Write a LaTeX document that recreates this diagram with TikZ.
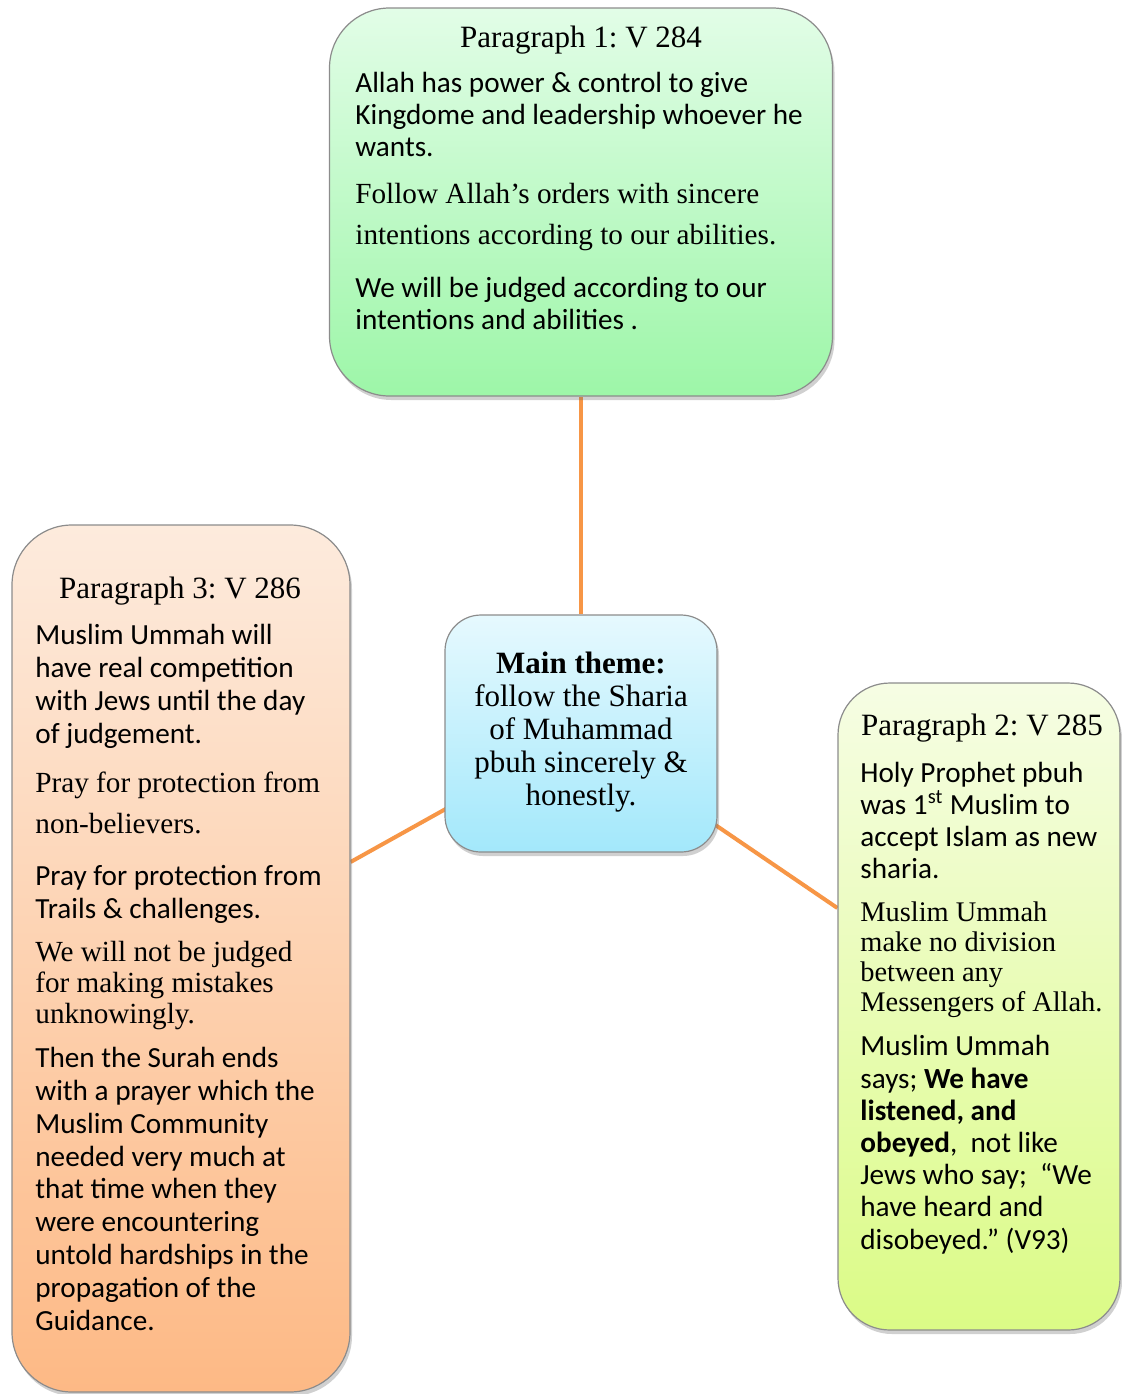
\documentclass[tikz,border=0pt]{standalone}
\usepackage{fontspec}
\setmainfont{Liberation Serif}
\newfontfamily\calfont{Carlito}
\usetikzlibrary{shadows,backgrounds}
\frenchspacing
\definecolor{linec}{HTML}{F79646}
\definecolor{gtop}{HTML}{E2FDE7}
\definecolor{gbot}{HTML}{9DF6A8}
\definecolor{btop}{HTML}{E6F9FE}
\definecolor{bbot}{HTML}{A3E8FB}
\definecolor{ptop}{HTML}{FDEBDD}
\definecolor{pbot}{HTML}{FDB985}
\definecolor{ytop}{HTML}{F6FDE4}
\definecolor{ybot}{HTML}{DBFB86}
\begin{document}
\begin{tikzpicture}[x=0.5pt,y=-0.5pt,
  box/.style={draw=black!45, line width=0.6pt,
    drop shadow={shadow xshift=1pt,shadow yshift=-2pt,opacity=0.3,fill=black!60}},
  cal/.style={font=\calfont\fontsize{14.6}{16}\selectfont, align=left, anchor=base west, inner sep=0pt},
  ser/.style={font=\fontsize{14.6}{20.5}\selectfont, align=left, anchor=base west, inner sep=0pt},
  ttl/.style={font=\fontsize{15.5}{18}\selectfont, anchor=base, inner sep=0pt},
  conn/.style={draw=linec, line width=2pt}]
\useasboundingbox (0,0) rectangle (1121,1394);

% boxes
\node[box, rounded corners=30pt, minimum width=251.5pt, minimum height=194pt,
  top color=gtop, bottom color=gbot] (p1) at (581,202) {};
\node[box, rounded corners=18pt, minimum width=136pt, minimum height=118.5pt,
  top color=btop, bottom color=bbot] (main) at (581,733.5) {};
\node[box, rounded corners=30pt, minimum width=169pt, minimum height=433.5pt,
  top color=ptop, bottom color=pbot] (p3) at (181,958.5) {};
\node[box, rounded corners=26pt, minimum width=141pt, minimum height=323.5pt,
  top color=ytop, bottom color=ybot] (p2) at (979,1006.5) {};

% connectors
\begin{scope}[on background layer]
\fill[white] (0,0) rectangle (1121,1394);
\draw[conn] (main.north) -- (p1.south);
\draw[conn] (main.center) -- ([yshift=48.25pt]p3.east);
\draw[conn] (main.center) -- ([yshift=49.25pt]p2.west);
\end{scope}

% paragraph 1 (base anchor = baseline of last line)
\node[ttl] (t1) at (581,47) {Paragraph 1: V 284};
\node[cal] (t1a) at (355,156) {Allah has power \& control to give\\Kingdome and leadership whoever he\\wants.};
\node[ser] (t1b) at (355,244) {Follow Allah’s orders with sincere\\intentions according to our abilities.};
\node[cal] (t1c) at (355,329) {We will be judged according to our\\intentions and abilities .};

% main theme
\node[font=\fontsize{15.5}{16.4}\selectfont, align=center, anchor=base, inner sep=0pt] (tm) at (581,805)
  {\textbf{Main theme:}\\follow the Sharia\\of Muhammad\\pbuh sincerely \&\\honestly.};

% paragraph 3
\node[ttl] (t3) at (180,598) {Paragraph 3: V 286};
\node[cal, font=\calfont\fontsize{14.6}{16.5}\selectfont] (t3a) at (35,743) {Muslim Ummah will\\have real competition\\with Jews until the day\\of judgement.};
\node[ser] (t3b) at (35,833) {Pray for protection from\\non-believers.};
\node[cal, font=\calfont\fontsize{14.6}{16.5}\selectfont] (t3c) at (35,918) {Pray for protection from\\Trails \& challenges.};
\node[ser, font=\fontsize{14.6}{15.5}\selectfont] (t3d) at (35,1023) {We will not be judged\\for making mistakes\\unknowingly.};
\node[cal, font=\calfont\fontsize{14.6}{16.4}\selectfont] (t3e) at (35,1330) {Then the Surah ends\\with a prayer which the\\Muslim Community\\needed very much at\\that time when they\\were encountering\\untold hardships in the\\propagation of the\\Guidance.};

% paragraph 2
\node[ttl] (t2) at (982,735) {Paragraph 2: V 285};
\node[cal] (t2a) at (860,878) {Holy Prophet pbuh\\was 1\textsuperscript{st} Muslim to\\accept Islam as new\\sharia.};
\node[ser, font=\fontsize{14.2}{15}\selectfont] (t2b) at (860,1011) {Muslim Ummah\\make no division\\between any\\Messengers of Allah.};
\node[cal, font=\calfont\fontsize{14.6}{16.1}\selectfont] (t2c) at (860,1249) {Muslim Ummah\\says; \textbf{We have}\\\textbf{listened, and}\\\textbf{obeyed},\ \ not like\\Jews who say;\ \ “We\\have heard and\\disobeyed.” (V93)};
\end{tikzpicture}
\end{document}
